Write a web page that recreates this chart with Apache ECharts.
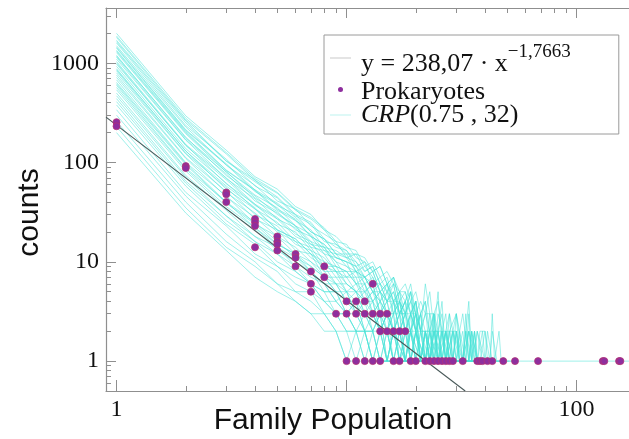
<!DOCTYPE html>
<html><head><meta charset="utf-8">
<script src="https://cdn.jsdelivr.net/npm/echarts@6/dist/echarts.min.js"></script>
<style>html,body{margin:0;padding:0;background:#fff}#c{width:629px;height:439px}</style>
</head><body><div id="c"></div>
<script>
// ---- axis ticks / labels ----
const xMajorTicks = [1, 10, 100];
const xTickLabels = [1, 100];
const xMinorTicks = [2, 3, 4, 5, 6, 7, 8, 9, 20, 30, 40, 50, 60, 70, 80, 90];
const yMajorTicks = [1, 10, 100, 1000];
const yTickLabels = [1, 10, 100, 1000];
const yMinorTicks = [0.6, 0.7, 0.8, 0.9, 2, 3, 4, 5, 6, 7, 8, 9, 20, 30, 40, 50, 60, 70, 80, 90,
  200, 300, 400, 500, 600, 700, 800, 900, 2000, 3000];

// ---- fitted power law, endpoints ----
const fitX = [0.9, 32.8];
const fitY = [287, 0.5];

// ---- Prokaryotes: family size (x) and number of families (y) ----
const protoX = [1, 1, 2, 2, 3, 3, 3, 4, 4, 4, 4, 5, 5, 5, 5, 6, 6, 6, 7, 7, 7, 8, 8, 9,
  10, 10, 10, 11, 11, 11, 12, 12, 12, 13, 13, 13, 14, 14, 14, 15, 15, 16, 16, 17, 17, 18,
  19, 20, 22, 23, 24, 25, 26, 27, 28, 29, 32, 37, 38, 39, 41, 43, 48, 54, 68, 130, 132, 153, 155];
const protoY = [255, 232, 92, 88, 50, 48, 40, 27, 25, 23, 14, 18, 16, 15, 13, 12, 11, 9, 8, 6, 5, 9, 7, 3,
  4, 3, 1, 4, 3, 1, 4, 3, 1, 6, 3, 1, 3, 2, 1, 3, 2, 2, 1, 2, 1, 2,
  1, 1, 1, 1, 1, 1, 1, 1, 1, 1, 1, 1, 1, 1, 1, 1, 1, 1, 1, 1, 1, 1, 1];

// ---- CRP(0.75, 32) simulations: counts of families of size 1, 2, 3, ... ----
const crpRuns = [
  [2000, 295, 133, 72, 54, 36, 30, 21, 18, 14, 13, 9, 10, 7, 8, 6, 5, 6, 4, 5, 3, 4, 2, 3, 4, 2, 3, 1, 2, 3, 2, 1, 2, 4, 1, 2, 1, 2, 0, 2, 1, 1, 3, 1, 0, 2, 1, 0, 1, 1, 0, 1, 0, 0, 1, 0, 1],
  [1880, 279, 126, 69, 50, 34, 28, 22, 16, 15, 11, 10, 8, 9, 6, 7, 5, 4, 6, 3, 4, 3, 5, 2, 2, 3, 1, 3, 2, 1, 2, 3, 0, 1, 2, 1, 1, 0, 2, 1, 0, 1, 2, 0, 1, 0, 1, 1, 0, 0, 1, 0, 0, 1],
  [1820, 268, 122, 66, 49, 33, 27, 21, 15, 12, 12, 11, 8, 9, 6, 7, 4, 5, 3, 4, 2, 6, 3, 3, 1, 2, 2, 3, 1, 2, 1, 1, 2, 0, 1, 2, 1, 0, 1, 1, 2, 0, 1, 1, 0, 0, 1, 0, 1],
  [1700, 262, 104, 67, 41, 34, 23, 19, 16, 11, 12, 8, 9, 6, 5, 7, 4, 3, 5, 2, 3, 4, 1, 2, 5, 1, 2, 2, 0, 3, 1, 1, 2, 1, 0, 1, 2, 0, 1, 1, 0, 1, 0, 0, 1, 1],
  [1650, 251, 103, 64, 45, 30, 25, 17, 14, 13, 10, 8, 9, 6, 7, 4, 5, 5, 3, 4, 2, 3, 3, 1, 2, 4, 1, 2, 1, 2, 0, 1, 3, 1, 0, 2, 1, 0, 1, 0, 1, 1, 0, 0, 1, 0, 0, 0, 1, 0, 1],
  [1600, 236, 108, 58, 44, 29, 24, 16, 15, 13, 9, 10, 6, 7, 5, 6, 3, 4, 5, 3, 2, 3, 2, 1, 3, 2, 1, 2, 1, 1, 0, 2, 1, 3, 1, 0, 1, 1, 0, 2, 0, 1, 0, 1, 0, 0, 1],
  [1500, 228, 94, 59, 37, 30, 20, 17, 12, 12, 8, 9, 7, 5, 6, 4, 5, 3, 4, 3, 2, 1, 3, 2, 2, 1, 2, 0, 1, 2, 1, 1, 0, 1, 2, 0, 1, 0, 1, 0, 1, 1],
  [1450, 214, 97, 53, 39, 28, 20, 17, 12, 11, 10, 7, 8, 5, 6, 4, 4, 3, 5, 2, 3, 2, 1, 3, 2, 1, 1, 2, 0, 2, 1, 0, 1, 1, 2, 0, 1, 0, 0, 1, 1, 0, 0, 1],
  [1420, 210, 95, 51, 38, 26, 21, 14, 13, 11, 8, 7, 8, 5, 4, 6, 3, 4, 2, 4, 2, 2, 1, 3, 1, 2, 1, 1, 2, 0, 1, 1, 0, 2, 1, 0, 0, 1, 1, 0, 1],
  [1350, 205, 84, 53, 34, 27, 18, 15, 11, 10, 9, 6, 7, 4, 6, 3, 5, 2, 3, 4, 1, 2, 2, 3, 1, 1, 2, 1, 0, 1, 2, 0, 1, 1, 0, 1, 0, 0, 1, 0, 0, 1],
  [1320, 200, 83, 52, 33, 26, 18, 15, 11, 10, 9, 7, 6, 6, 4, 5, 3, 4, 3, 2, 3, 1, 2, 2, 1, 2, 1, 0, 2, 1, 1, 0, 1, 2, 0, 0, 1, 0, 1, 0, 0, 1],
  [1280, 195, 80, 47, 35, 23, 19, 13, 12, 9, 8, 7, 5, 6, 4, 5, 3, 3, 4, 2, 3, 1, 2, 1, 2, 2, 0, 1, 1, 3, 0, 1, 0, 1, 1, 0, 2, 0, 0, 1],
  [1200, 176, 81, 44, 32, 21, 18, 12, 11, 10, 6, 7, 5, 4, 5, 3, 4, 2, 3, 3, 1, 2, 1, 2, 1, 0, 2, 1, 1, 0, 1, 0, 1, 1, 0, 0, 1],
  [1180, 180, 74, 46, 30, 23, 16, 14, 10, 9, 7, 7, 5, 5, 4, 4, 3, 3, 2, 3, 1, 2, 2, 1, 0, 2, 1, 1, 0, 1, 1, 0, 0, 1, 0, 1],
  [1150, 170, 77, 41, 31, 23, 15, 14, 9, 8, 8, 5, 6, 3, 5, 4, 2, 3, 2, 3, 2, 1, 1, 2, 0, 1, 2, 0, 1, 1, 0, 1, 0, 2, 0, 1, 0, 0, 0, 1],
  [1100, 168, 69, 43, 27, 22, 14, 13, 10, 7, 8, 6, 4, 5, 3, 4, 2, 3, 3, 1, 2, 2, 1, 0, 2, 1, 1, 0, 1, 0, 1, 1, 0, 0, 1, 0, 1],
  [1040, 152, 70, 38, 28, 19, 16, 10, 9, 8, 6, 5, 6, 3, 4, 2, 4, 2, 3, 2, 1, 2, 1, 1, 1, 0, 2, 1, 0, 1, 0, 0, 1, 0, 1, 0, 0, 0, 1],
  [1010, 148, 67, 37, 27, 18, 15, 12, 8, 8, 6, 6, 4, 5, 3, 3, 4, 2, 2, 3, 1, 1, 2, 0, 1, 1, 1, 0, 2, 0, 0, 1, 0, 1, 0, 0, 0, 1],
  [980, 150, 61, 38, 24, 20, 13, 11, 8, 7, 7, 4, 5, 4, 3, 2, 3, 4, 1, 2, 2, 1, 0, 2, 1, 1, 0, 1, 0, 0, 1, 1, 0, 0, 0, 1],
  [930, 138, 62, 34, 25, 16, 14, 9, 9, 6, 5, 6, 3, 4, 2, 4, 2, 1, 3, 2, 1, 1, 2, 0, 1, 0, 1, 1, 0, 1, 0, 0, 1],
  [880, 130, 58, 35, 21, 17, 12, 10, 7, 7, 5, 4, 5, 3, 2, 3, 3, 1, 2, 2, 1, 0, 1, 2, 0, 1, 0, 1, 1, 0, 0, 1, 0, 0, 1],
  [860, 131, 54, 34, 21, 17, 12, 9, 8, 6, 5, 5, 4, 3, 4, 2, 3, 2, 1, 2, 1, 2, 0, 1, 0, 1, 1, 0, 0, 1, 0, 1],
  [840, 124, 56, 30, 23, 15, 13, 8, 8, 5, 6, 4, 3, 4, 3, 2, 2, 3, 1, 2, 0, 1, 1, 0, 2, 1, 0, 0, 1, 0, 1, 0, 0, 0, 1],
  [800, 122, 50, 31, 20, 16, 11, 9, 6, 6, 5, 4, 4, 2, 3, 3, 1, 2, 2, 1, 1, 2, 0, 1, 1, 0, 0, 1, 0, 1, 0, 1],
  [760, 112, 51, 27, 21, 13, 12, 7, 7, 5, 4, 5, 3, 2, 3, 2, 3, 1, 2, 1, 2, 0, 1, 0, 1, 1, 0, 1, 0, 0, 0, 1, 0, 1],
  [720, 110, 45, 28, 18, 14, 10, 8, 6, 5, 5, 3, 4, 2, 3, 2, 1, 2, 2, 1, 1, 0, 1, 1, 0, 1, 0, 0, 1],
  [680, 100, 46, 24, 18, 12, 10, 7, 6, 4, 5, 3, 3, 2, 3, 1, 2, 2, 1, 2, 0, 1, 1, 0, 0, 1, 0, 1, 0, 0, 1],
  [640, 98, 40, 25, 16, 11, 9, 7, 5, 5, 3, 4, 2, 3, 2, 1, 2, 1, 2, 1, 1, 0, 1, 0, 1, 0, 0, 1],
  [620, 95, 39, 24, 15, 12, 9, 7, 5, 4, 4, 3, 3, 2, 2, 3, 1, 2, 1, 1, 0, 1, 1, 0, 0, 1, 0, 0, 1],
  [600, 88, 40, 22, 15, 12, 8, 6, 6, 4, 3, 3, 2, 3, 1, 2, 2, 1, 1, 2, 0, 1, 0, 1, 0, 0, 1],
  [570, 86, 36, 22, 14, 11, 8, 6, 4, 5, 3, 2, 3, 2, 2, 1, 2, 1, 0, 1, 1, 0, 1, 0, 0, 1],
  [540, 82, 34, 21, 13, 10, 8, 5, 5, 3, 4, 2, 2, 3, 1, 2, 1, 1, 2, 0, 1, 0, 1, 0, 1],
  [500, 74, 33, 18, 14, 9, 7, 6, 4, 3, 4, 2, 2, 2, 1, 2, 1, 0, 1, 1, 0, 1, 0, 0, 1],
  [470, 71, 29, 18, 12, 9, 6, 5, 5, 3, 2, 3, 2, 1, 2, 1, 1, 0, 2, 0, 1, 0, 0, 1],
  [440, 65, 29, 16, 12, 8, 6, 5, 3, 3, 3, 2, 1, 2, 1, 2, 0, 1, 1, 0, 0, 1],
  [410, 62, 26, 16, 10, 8, 6, 4, 4, 3, 2, 2, 2, 1, 1, 2, 0, 1, 0, 1, 0, 0, 1],
  [380, 58, 24, 15, 9, 7, 6, 4, 3, 3, 2, 2, 1, 2, 1, 1, 1, 0, 1, 0, 1],
  [340, 50, 23, 12, 9, 6, 5, 4, 3, 2, 2, 2, 1, 1, 2, 1, 0, 1, 0, 0, 1],
  [300, 46, 19, 11, 8, 5, 5, 3, 3, 2, 2, 1, 2, 1, 1, 0, 1, 0, 1],
  [260, 40, 16, 10, 6, 5, 4, 3, 2, 2, 1, 2, 1, 1, 0, 1, 0, 0, 1],
  [230, 35, 14, 9, 6, 4, 3, 3, 2, 1, 2, 1, 1, 0, 1, 0, 1],
  [200, 31, 13, 7, 5, 4, 3, 2, 2, 1, 1, 1, 0, 1, 0, 1]
];
// the largest families (one each) of the first simulation
const crpLargestFamilies = [62, 77, 118, 196];

// ---- chart ----
const xMin = 0.9, xMax = 169, yMin = 0.5, yMax = 3600;
const axisColor = '#8f8f8f';
const crpColor = 'rgba(70,226,214,0.52)';
const serif = 'Liberation Serif';
const sans = 'Liberation Sans';
const lineIcon = 'path://M0,0L42,0L42,2L0,2Z';

function xAxisDef(pos, ticks, len, opts) {
  return Object.assign({
    type: 'log', position: pos, min: xMin, max: xMax, logBase: 10,
    axisLine: { show: true, lineStyle: { color: axisColor, width: 1.2 } },
    axisTick: { show: true, inside: true, length: len, customValues: ticks, lineStyle: { color: axisColor, width: 1 } },
    axisLabel: { show: false },
    splitLine: { show: false }, minorTick: { show: false }
  }, opts || {});
}
function yAxisDef(pos, ticks, len, opts) {
  return Object.assign({
    type: 'log', position: pos, min: yMin, max: yMax, logBase: 10,
    axisLine: { show: true, lineStyle: { color: axisColor, width: 1.2 } },
    axisTick: { show: true, inside: true, length: len, customValues: ticks, lineStyle: { color: axisColor, width: 1 } },
    axisLabel: { show: false },
    splitLine: { show: false }, minorTick: { show: false }
  }, opts || {});
}

const crpSeries = crpRuns.map((counts, r) => {
  const pts = [];
  counts.forEach((c, i) => { if (c > 0) pts.push([i + 1, c]); });
  if (r === 0) crpLargestFamilies.forEach(s => pts.push([s, 1]));
  return {
    type: 'line', name: 'CRP', data: pts, symbol: 'none', silent: true,
    lineStyle: { width: 1, color: crpColor }, itemStyle: { color: crpColor },
    z: 1, animation: false, clip: true
  };
});

const chart = echarts.init(document.getElementById('c'), null, { renderer: 'canvas' });
chart.setOption({
  animation: false,
  backgroundColor: '#fff',
  grid: { left: 106, right: 0, top: 8, bottom: 48, containLabel: false, outerBoundsMode: 'none' },
  xAxis: [
    xAxisDef('bottom', xMajorTicks, 11, {
      axisLabel: { show: true, customValues: xTickLabels, formatter: v => String(v), margin: 7, fontFamily: serif, fontSize: 24, color: '#111' },
      name: 'Family Population', nameLocation: 'middle', nameGap: 15, nameMoveOverlap: false,
      nameTextStyle: { fontFamily: sans, fontSize: 30, color: '#111', padding: [0, 69, 0, 0] }
    }),
    xAxisDef('bottom', xMinorTicks, 5, { axisLine: { show: false } }),
    xAxisDef('top', xMajorTicks, 10),
    xAxisDef('top', xMinorTicks, 5, { axisLine: { show: false } })
  ],
  yAxis: [
    yAxisDef('left', yMajorTicks, 10, {
      axisLabel: { show: true, customValues: yTickLabels, formatter: v => String(v), margin: 7, fontFamily: serif, fontSize: 24, color: '#111' },
      name: 'counts', nameLocation: 'middle', nameGap: 61, nameRotate: 90, nameMoveOverlap: false,
      nameTextStyle: { fontFamily: sans, fontSize: 30, color: '#111', padding: [0, 26, 0, 0] }
    }),
    yAxisDef('left', yMinorTicks, 5, { axisLine: { show: false } })
  ],
  legend: {
    orient: 'vertical', left: 324, top: 35,
    padding: [4, 48, 6, 6], itemGap: -3, itemWidth: 21, itemHeight: 5,
    borderColor: '#9a9a9a', borderWidth: 1, backgroundColor: '#fff', selectedMode: false,
    data: [
      { name: 'fit', icon: lineIcon, itemStyle: { color: '#c8c8c8', borderWidth: 0 } },
      { name: 'Prokaryotes', icon: 'circle', itemStyle: { color: '#8e2e9e', borderWidth: 0 } },
      { name: 'CRP', icon: lineIcon, itemStyle: { color: '#bdf3ef', borderWidth: 0 } }
    ],
    formatter: n => n === 'fit' ? '{a|y = 238,07 · x}{s|−1,7663}'
      : n === 'CRP' ? '{i|CRP}{b|(0.75 , 32)}' : '{p|Prokaryotes}',
    textStyle: {
      fontFamily: serif, fontSize: 26, color: '#111', padding: [0, 0, 0, 5],
      rich: {
        a: { fontFamily: serif, fontSize: 26, color: '#111', lineHeight: 38, verticalAlign: 'bottom' },
        s: { fontFamily: serif, fontSize: 19, color: '#111', lineHeight: 20, verticalAlign: 'top', padding: [4, 0, 0, 0] },
        p: { fontFamily: serif, fontSize: 26, color: '#111', lineHeight: 24, padding: [5, 0, 0, 0] },
        b: { fontFamily: serif, fontSize: 26, color: '#111', lineHeight: 24 },
        i: { fontFamily: serif, fontSize: 26, color: '#111', lineHeight: 24, fontStyle: 'italic' }
      }
    }
  },
  series: [
    ...crpSeries,
    {
      type: 'line', name: 'fit', data: fitX.map((x, i) => [x, fitY[i]]), symbol: 'none', silent: true,
      lineStyle: { width: 1.1, color: '#485858' }, itemStyle: { color: '#485858' }, z: 3, clip: true
    },
    {
      type: 'scatter', name: 'Prokaryotes', data: protoX.map((x, i) => [x, protoY[i]]),
      symbol: 'circle', symbolSize: 7, silent: true,
      itemStyle: { color: '#8e2e9e', borderColor: '#b23276', borderWidth: 0.8, opacity: 1 }, z: 4
    }
  ]
});
</script>
</body></html>
